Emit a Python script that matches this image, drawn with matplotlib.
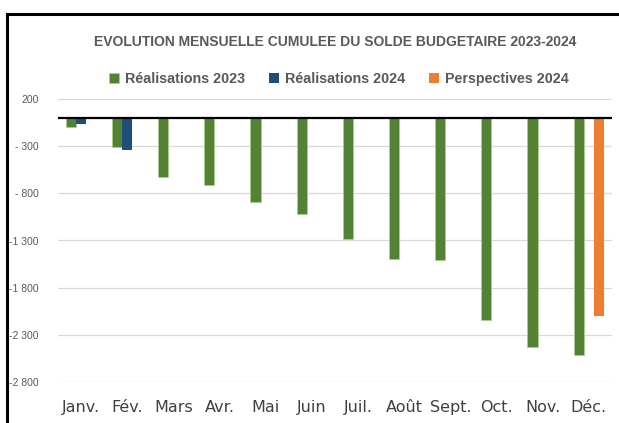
import numpy as np
import matplotlib.pyplot as plt
from matplotlib.lines import Line2D

# donnees (milliards)
mois = ["Janv.", "Fév.", "Mars", "Avr.", "Mai", "Juin", "Juil.", "Août",
        "Sept.", "Oct.", "Nov.", "Déc."]
real_2023 = [-92, -308, -623, -712, -896, -1020, -1283, -1496, -1503, -2141, -2428, -2510]
real_2024 = [-63, -336, None, None, None, None, None, None, None, None, None, None]
persp_2024 = [None, None, None, None, None, None, None, None, None, None, None, -2102]
yticks = [200, -300, -800, -1300, -1800, -2300, -2800]
ylabels = ["200", "- 300", "- 800", "-1 300", "-1 800", "-2 300", "-2 800"]

c_vert = "#548235"
c_bleu = "#1F4E79"
c_orange = "#ED7D31"
gris = "#595959"

plt.rcParams['font.family'] = ['Liberation Sans', 'DejaVu Sans']

fig = plt.figure(figsize=(6.19, 4.23), dpi=100)
ax = fig.add_axes([58 / 619, 1 - 382 / 423, 554 / 619, 283 / 423])

x = np.arange(len(mois))
w = 0.222


def vals(serie):
    return [np.nan if v is None else v for v in serie]


ax.bar(x - w, vals(real_2023), w, color=c_vert, edgecolor="#A9D18E", linewidth=0.5,
       label="Réalisations 2023", zorder=2)
ax.bar(x, vals(real_2024), w, color=c_bleu, label="Réalisations 2024", zorder=2)
ax.bar(x + w, vals(persp_2024), w, color=c_orange, label="Perspectives 2024", zorder=2)

ax.axhline(0, color="black", lw=1.6, zorder=3)
ax.set_ylim(-2800, 200)
ax.set_xlim(-0.5, len(mois) - 0.5)
ax.set_yticks(yticks)
ax.set_yticklabels(ylabels, fontsize=7.5, color=gris)
ax.yaxis.grid(True, color="#D9D9D9", lw=0.9, zorder=0)
ax.set_xticks(x)
ax.set_xticklabels(mois, fontsize=11.5, color="#404040", family="DejaVu Sans")
ax.tick_params(axis="both", length=0)
ax.tick_params(axis="x", pad=13)
ax.tick_params(axis="y", pad=14)
for s in ax.spines.values():
    s.set_visible(False)

fig.text(335 / 619, 1 - 42 / 423, "EVOLUTION MENSUELLE CUMULEE DU SOLDE BUDGETAIRE 2023-2024",
         ha="center", va="center", fontsize=10, fontweight="bold", color=gris)

fig.legend(loc="center", bbox_to_anchor=(339 / 619, 1 - 79 / 423), ncol=3, frameon=False,
           prop={"size": 10.3, "weight": "bold"}, handlelength=0.7, handleheight=0.7,
           handletextpad=0.4, columnspacing=1.7, labelcolor=gris)

# cadre du graphique
fig.add_artist(Line2D([7 / 619, 1], [1 - 14 / 423, 1 - 14 / 423], color="black", lw=2.2))
fig.add_artist(Line2D([7 / 619, 7 / 619], [0, 1 - 14 / 423], color="black", lw=2.2))

fig.savefig("out.png", dpi=100)
